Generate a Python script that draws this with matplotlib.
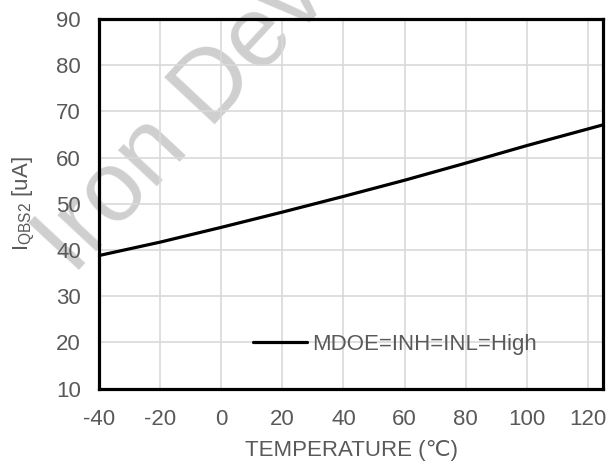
import matplotlib
matplotlib.use('Agg')
import matplotlib.pyplot as plt

# data
temperature = [-40, -20, 0, 20, 40, 60, 80, 100, 125]
iqbs2 = [38.8, 41.7, 44.9, 48.2, 51.6, 55.1, 58.8, 62.6, 67.1]
series_label = 'MDOE=INH=INL=High'
x_ticks = [-40, -20, 0, 20, 40, 60, 80, 100, 120]
y_ticks = [10, 20, 30, 40, 50, 60, 70, 80, 90]

plt.rcParams['font.family'] = ['Liberation Sans', 'DejaVu Sans']
plt.rcParams['axes.unicode_minus'] = False
text_gray = '#595959'
fs = 16

fig = plt.figure(figsize=(6.08, 4.65), dpi=100)
ax = fig.add_axes([0.163, 0.1645, 0.829, 0.7945])
ax.patch.set_alpha(0)

# watermark behind everything (cut off at the top like the original)
fig.text(0.120, 0.406, 'Iron Devices', fontsize=72, color='#cfcfcf',
         rotation=47, rotation_mode='anchor', ha='left', va='baseline', zorder=-1)

ax.plot(temperature, iqbs2, color='black', lw=2.3, label=series_label,
        solid_capstyle='round', zorder=3)

ax.set_xlim(-40, 125)
ax.set_ylim(10, 90)
ax.set_xticks(x_ticks)
ax.set_yticks(y_ticks)
ax.grid(True, color='#d9d9d9', lw=1.2)
ax.set_axisbelow(True)
ax.tick_params(length=0, labelsize=fs, labelcolor=text_gray)
ax.tick_params(axis='x', pad=15)
ax.tick_params(axis='y', pad=13)
for s in ax.spines.values():
    s.set_linewidth(2.3)
    s.set_color('black')

ax.set_xlabel('TEMPERATURE (\u2103)', fontsize=fs, color=text_gray, labelpad=7)
ax.set_ylabel(r'I$_{\mathregular{QBS2}}$ [uA]', fontsize=fs, color=text_gray, labelpad=14)

leg = ax.legend(loc='center left', bbox_to_anchor=(0.305, 0.12), frameon=False,
                fontsize=fs, handlelength=2.45, handletextpad=0.2,
                borderaxespad=0, borderpad=0)
for t in leg.get_texts():
    t.set_color(text_gray)

fig.savefig('out.png', dpi=100)
